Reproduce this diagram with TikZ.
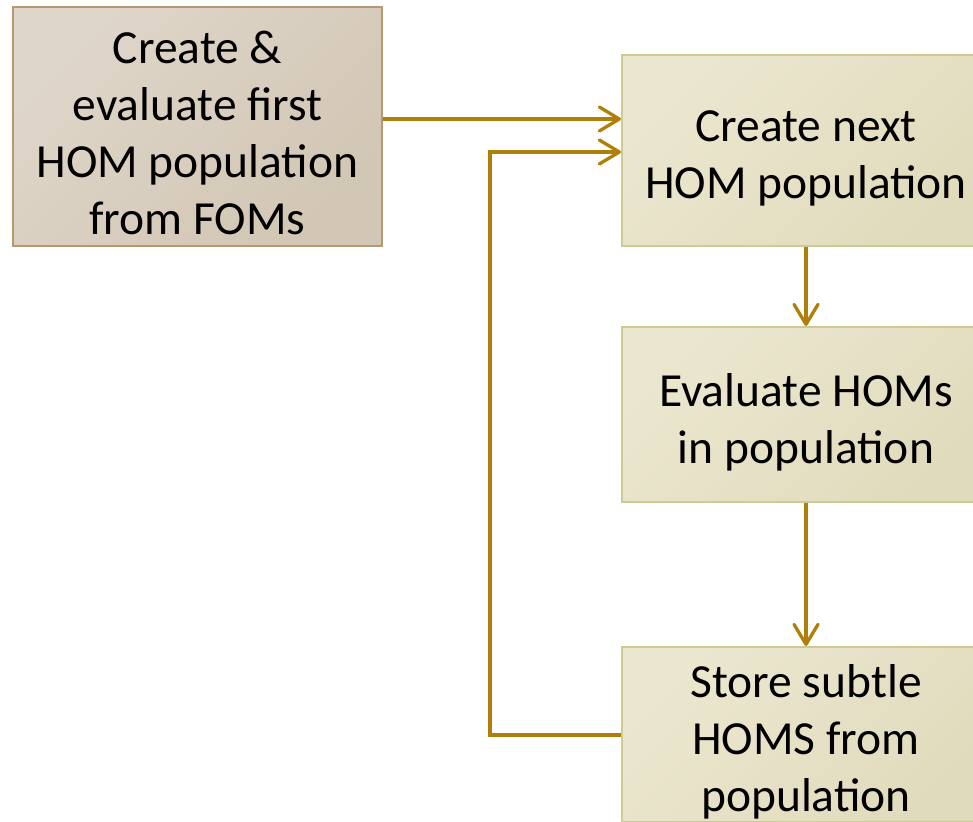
\documentclass[tikz,border=0pt]{standalone}
\usepackage{fontspec}
\setmainfont{Carlito}
\usetikzlibrary{arrows.meta}
\definecolor{firstfill}{HTML}{DFD6CA}
\definecolor{firstfilldark}{HTML}{D2C6B4}
\definecolor{firstedge}{HTML}{B49A6E}
\definecolor{stepfill}{HTML}{EBE7CF}
\definecolor{stepfilldark}{HTML}{E1DBBD}
\definecolor{stepedge}{HTML}{CFC993}
\definecolor{flow}{HTML}{B07F0A}
\tikzset{
  boxtext/.style={font=\fontsize{47.5}{57}\selectfont, align=center},
  startbox/.style={draw=firstedge, line width=2pt, left color=firstfill, right color=firstfilldark,
    shading angle=45, minimum width=369pt, minimum height=239pt, inner sep=0pt},
  stagebox/.style={draw=stepedge, line width=2pt, left color=stepfill, right color=stepfilldark,
    shading angle=45, minimum width=368pt, inner sep=0pt},
  flowline/.style={draw=flow, line width=3.3pt},
  flowarrow/.style={flowline, -{Straight Barb[length=20pt, width=24pt, line cap=round, line join=round]}},
}
\begin{document}
\begin{tikzpicture}[x=1pt, y=-1pt]
  \useasboundingbox (0,0) rectangle (973,821);
  \fill[white] (0,0) rectangle (973,821);

  % process boxes
  \node[startbox] (first) at (197.5,126.5) {};
  \node[stagebox, minimum height=191pt] (next) at (806,150.5) {};
  \node[stagebox, minimum height=175pt] (eval) at (806,414.5) {};
  \node[stagebox, minimum height=175pt] (store) at (806,734.5) {};

  % box texts
  \node[boxtext] (firsttext) at (197.5,133) {Create \&\\evaluate first\\HOM population\\from FOMs};
  \node[boxtext] (nexttext) at (806,158) {Create next\\HOM population};
  \node[boxtext] (evaltext) at (806,422) {Evaluate HOMs\\in population};
  \node[boxtext] (storetext) at (806,742) {Store subtle\\HOMS from\\population};

  % connectors
  \coordinate (loopbottom) at (490,735);
  \coordinate (looptop) at (490,152);
  \draw[flowarrow] (first.east |- 0,119) -- (next.west |- 0,119);
  \draw[flowarrow] (store.west |- loopbottom) -- (loopbottom) -- (looptop) -- (next.west |- looptop);
  \draw[flowarrow] (next.south) -- (eval.north);
  \draw[flowarrow] (eval.south) -- (store.north);
\end{tikzpicture}
\end{document}
